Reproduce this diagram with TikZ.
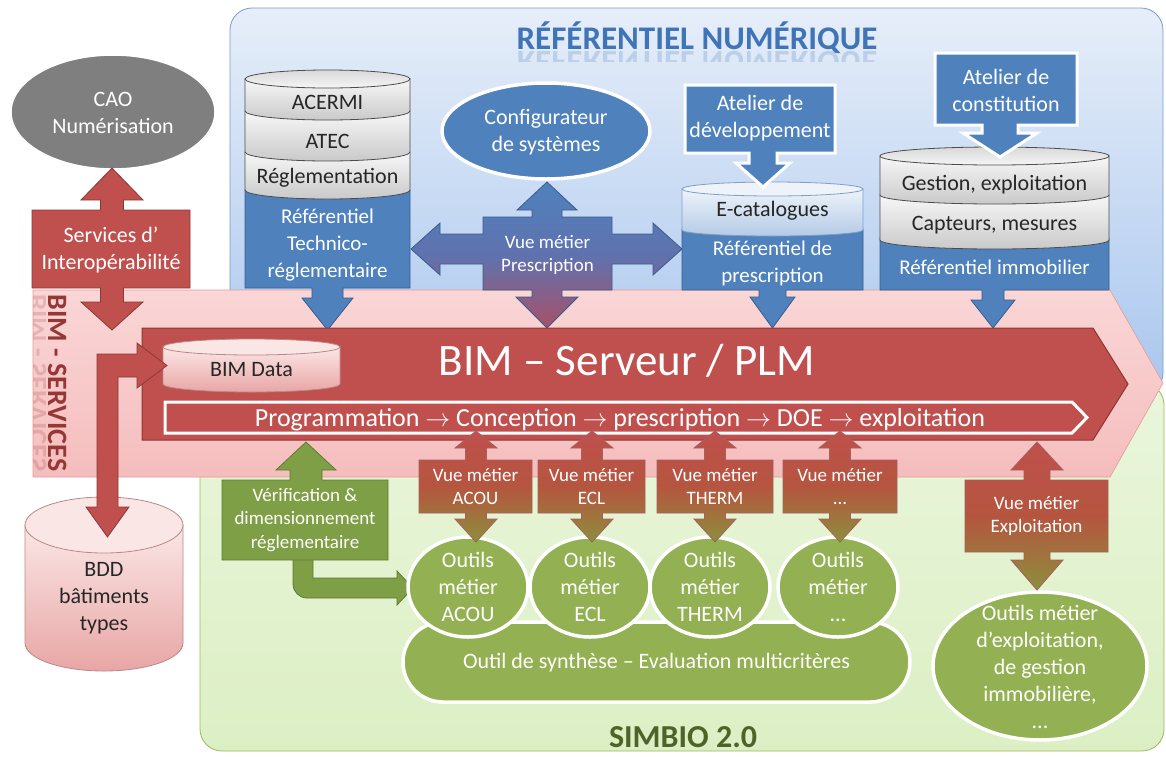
\documentclass[tikz,border=0pt]{standalone}
\usepackage{fontspec}
\setmainfont{Carlito}
\usepackage{graphicx}
\usetikzlibrary{shapes.geometric}
\definecolor{bl}{HTML}{4F81BD}
\definecolor{blD}{HTML}{385D8A}
\definecolor{rd}{HTML}{C0504D}
\definecolor{rdD}{HTML}{8C3836}
\definecolor{rdM}{HTML}{B5553F}
\definecolor{olv}{HTML}{8C8F3C}
\definecolor{gr}{HTML}{93B152}
\definecolor{grB}{HTML}{7E9F45}
\definecolor{grD}{HTML}{5F7A2E}
\definecolor{gy}{HTML}{7F7F7F}
\definecolor{bgbT}{HTML}{E6EEF9}
\definecolor{bgbB}{HTML}{A9C6EE}
\definecolor{bgbD}{HTML}{7A9CC8}
\definecolor{bggT}{HTML}{EAF6DC}
\definecolor{bggB}{HTML}{DCEFC4}
\definecolor{bggD}{HTML}{9BBB59}
\definecolor{pkT}{HTML}{FAD6D6}
\definecolor{pkB}{HTML}{F5BDBD}
\definecolor{pkD}{HTML}{E29A9A}
\definecolor{mar}{HTML}{953735}
\definecolor{ttl}{HTML}{3F74B8}
\definecolor{sim}{HTML}{4F6228}
\definecolor{ecT}{HTML}{EEF3FA}
\definecolor{ecB}{HTML}{B4CAE6}
\definecolor{ecD}{HTML}{7F9FC8}
\definecolor{pcT}{HTML}{FBE6E6}
\definecolor{pcB}{HTML}{E8A6A5}
\definecolor{qM}{HTML}{5F72AE}
\definecolor{qB}{HTML}{A8506A}
\definecolor{dk}{HTML}{262626}
\newcommand\myfs[2]{\fontsize{#1}{#2}\selectfont}
\tikzset{
  wt/.style={text=white, align=center, inner sep=0pt},
  dt/.style={text=dk, align=center, inner sep=0pt},
  fA/.style={font=\myfs{22}{27}},
  fB/.style={font=\myfs{21}{27}},
  fC/.style={font=\myfs{19}{23.5}},
  blbox/.style={fill=bl, draw=blD, line width=0.8pt},
  wblbox/.style={fill=bl, draw=white, line width=3pt},
  rdarrow/.style={fill=rd, draw=rdD, line width=0.8pt},
  gband/.style={top color=gray!6, bottom color=gray!42, draw=black!70, line width=0.8pt},
  gtop/.style={top color=gray!30, bottom color=gray!8, draw=black!70, line width=0.8pt},
  vuefill/.style={top color=rd, bottom color=olv, middle color=rdM, draw=rdD!80, line width=0.8pt},
  geell/.style={fill=gr, draw=white, line width=3.5pt},
  grarrow/.style={fill=grB, draw=grD, line width=0.8pt},
}
\newcommand\vuecall[3]{%
  \path[vuefill] (#3,431) -- ({#3+21},448) -- ({#3+10.5},448) -- ({#3+10.5},460) -- (#2,460) -- (#2,513) -- ({#3+10.5},513) -- ({#3+10.5},519) -- ({#3+21},519) -- (#3,542) -- ({#3-21},519) -- ({#3-10.5},519) -- ({#3-10.5},513) -- (#1,513) -- (#1,460) -- ({#3-10.5},460) -- ({#3-10.5},448) -- ({#3-21},448) -- cycle;}
\begin{document}
\begin{tikzpicture}[x=1pt,y=-1pt]
\useasboundingbox (0,0) rectangle (1166,756);
% backgrounds
\path[rounded corners=22pt, top color=bgbT, bottom color=bgbB, draw=bgbD, line width=0.8pt] (230,8) rectangle (1163,395);
\path[rounded corners=22pt, top color=bggT, bottom color=bggB, draw=bggD, line width=0.8pt] (200,383) rectangle (1164,751);
% title
\node[anchor=base, font=\bfseries\myfs{33}{33}, text=ttl, inner sep=0pt] (title) at (697,49) {RÉFÉRENTIEL NUMÉRIQUE};
\begin{scope}
\clip (500,50) rectangle (900,61);
\node[anchor=base, font=\bfseries\myfs{33}{33}, text=ttl, inner sep=0pt, opacity=0.22] (titler) at (697,51) {\scalebox{1}[-1]{RÉFÉRENTIEL NUMÉRIQUE}};
\end{scope}
% pink BIM services region
\path[top color=pkT, bottom color=pkB, draw=pkD, line width=0.6pt] (33,290) -- (1110,290) -- (1163,383) -- (1110,477) -- (33,477) -- cycle;
\node[rotate=-90, anchor=base, font=\bfseries\myfs{28}{28}, text=mar, inner sep=0pt] (bs) at (48,383) {BIM - SERVICES};
\begin{scope}
\clip (33,290) rectangle (46.5,477);
\node[rotate=-90, anchor=base, font=\bfseries\myfs{28}{28}, text=mar, inner sep=0pt, opacity=0.2] (bsr) at (46,383) {\scalebox{1}[-1]{BIM - SERVICES}};
\end{scope}
% Technico box + arrow
\path[blbox] (245,190) -- (410,190) -- (410,288) -- (343,288) -- (343,298) -- (353,298) -- (327.5,330) -- (302,298) -- (312,298) -- (312,288) -- (245,288) -- cycle;
\node[wt,fB] (tech) at (327.5,245) {Référentiel\\Technico-\\réglementaire};
% stack 1
\path[gband] (245,152) -- (245,190) arc[start angle=180,end angle=0,x radius=82.5,y radius=9] -- (410,152) -- cycle;
\path[gband] (245,111) -- (245,152) arc[start angle=180,end angle=0,x radius=82.5,y radius=9] -- (410,111) -- cycle;
\path[gband] (245,79) -- (245,111) arc[start angle=180,end angle=0,x radius=82.5,y radius=9] -- (410,79) -- cycle;
\path[gtop] (327.5,79) ellipse [x radius=82.5, y radius=9];
\node[dt,fA] (acermi) at (327.5,102) {ACERMI};
\node[dt,fA] (atec) at (327.5,141) {ATEC};
\node[dt,fA] (regl) at (327.5,178) {Réglementation};
% quad arrow
\path[top color=bl, bottom color=qB, middle color=qM, draw=blD, line width=0.8pt]
 (547,182) -- (577,210) -- (562,210) -- (562,217) -- (612,217) -- (612,234) -- (653,234) -- (653,223) -- (682,249) -- (653,275) -- (653,264) -- (612,264) -- (612,290) -- (562,290) -- (562,297) -- (578,297) -- (547,328) -- (516,297) -- (532,297) -- (532,290) -- (483,290) -- (483,264) -- (440,264) -- (440,275) -- (411,249) -- (440,223) -- (440,234) -- (483,234) -- (483,217) -- (532,217) -- (532,210) -- (517,210) -- cycle;
\node[wt,fC] (vpres) at (547.5,255) {Vue métier\\Prescription};
% configurateur
\path[fill=bl, draw=white, line width=3.5pt] (546,131) ellipse [x radius=104, y radius=48];
\node[wt,fA] (config) at (546,132) {Configurateur\\de systèmes};
% E-catalogues
\path[blbox] (682,229) -- (863,229) -- (863,290) -- (786,290) -- (786,297) -- (795,297) -- (772.5,328) -- (750,297) -- (759,297) -- (759,290) -- (682,290) -- cycle;
\node[wt,fB] (refpres) at (772.5,263) {Référentiel de\\prescription};
\path[top color=ecT, bottom color=ecB, draw=ecD, line width=0.8pt] (682,189) -- (682,230) arc[start angle=180,end angle=0,x radius=90.5,y radius=6] -- (863,189) -- cycle;
\path[fill=ecT, draw=ecD, line width=0.8pt] (772.5,189) ellipse [x radius=90.5, y radius=7];
\node[dt,fA] (ecat) at (772.5,211) {E-catalogues};
% Atelier de developpement
\path[wblbox] (685,85) -- (835,85) -- (835,153) -- (777,153) -- (777,163) -- (790,163) -- (763,187) -- (736,163) -- (749,163) -- (749,153) -- (685,153) -- cycle;
\node[wt,fA] (atdev) at (760,118) {Atelier de\\développement};
% stack 2
\path[blbox] (880,238) -- (1109,238) -- (1109,290) -- (1004,290) -- (1004,300) -- (1015,300) -- (993,328) -- (971,300) -- (982,300) -- (982,290) -- (880,290) -- cycle;
\node[wt,fB] (refimm) at (994.5,267) {Référentiel immobilier};
\path[gband] (880,195) -- (880,240) arc[start angle=180,end angle=0,x radius=114.5,y radius=9] -- (1109,195) -- cycle;
\path[gband] (880,156) -- (880,195) arc[start angle=180,end angle=0,x radius=114.5,y radius=9] -- (1109,156) -- cycle;
\path[gtop] (994.5,156) ellipse [x radius=114.5, y radius=9];
\node[dt,fA] (gest) at (994.5,185) {Gestion, exploitation};
\node[dt,fA] (capt) at (994.5,225) {Capteurs, mesures};
% Atelier de constitution
\path[wblbox] (935,53) -- (1077,53) -- (1077,125) -- (1018,125) -- (1018,133) -- (1037,133) -- (1000,157) -- (963,133) -- (982,133) -- (982,125) -- (935,125) -- cycle;
\node[wt,fA] (atcon) at (1006,90) {Atelier de\\constitution};
% CAO
\path[fill=gy, draw=white, line width=3.5pt] (113,112) ellipse [x radius=103, y radius=58];
\node[wt,fA] (cao) at (113,113) {CAO\\Numérisation};
% Services d'interop
\path[rdarrow] (112,168) -- (143,200) -- (123.5,200) -- (123.5,210) -- (190,210) -- (190,288) -- (123.5,288) -- (123.5,302) -- (143,302) -- (112,330) -- (81,302) -- (100.5,302) -- (100.5,288) -- (32,288) -- (32,210) -- (100.5,210) -- (100.5,200) -- (81,200) -- cycle;
\node[wt,fA] (serv) at (111,250) {Services d’\\Interopérabilité};
% BIM server
\path[rdarrow, line width=1pt] (142,328) -- (1093,328) -- (1128,384) -- (1093,440) -- (142,440) -- cycle;
\node[anchor=base, text=white, font=\myfs{45}{45}, inner sep=0pt] (bim) at (627,375) {BIM – Serveur / PLM};
\path[fill=rd, draw=white, line width=3pt] (165,402) -- (1072,402) -- (1087,417.5) -- (1072,433) -- (165,433) -- cycle;
\node[anchor=base, text=white, font=\myfs{26}{26}, inner sep=0pt] (prog) at (620,426) {Programmation $\rightarrow$ Conception $\rightarrow$ prescription $\rightarrow$ DOE $\rightarrow$ exploitation};
% BIM Data cylinder
\path[top color=pcT, bottom color=pcB, draw=rdD!60, line width=0.8pt] (163,347) -- (163,384) arc[start angle=180,end angle=0,x radius=88.5,y radius=8] -- (340,347) -- cycle;
\path[fill=pcT, draw=rdD!60, line width=0.8pt] (251.5,347) ellipse [x radius=88.5, y radius=8];
\node[dt,fA] (bimdata) at (251.5,370) {BIM Data};
% green verification
\path[grarrow] (293,555) -- (293,584) .. controls (293,591.7) and (299.3,598) .. (307,598) -- (397,598) -- (397,605) -- (413,588) -- (397,571) -- (397,578) -- (313,578) -- (313,555) -- cycle;
\path[grarrow] (306,442) -- (336,470) -- (322,470) -- (322,480) -- (388,480) -- (388,560) -- (222,560) -- (222,480) -- (290,480) -- (290,470) -- (276,470) -- cycle;
\node[wt,fC] (verif) at (305,520) {Vérification \&\\dimensionnement\\réglementaire};
% synthese bar
\node[fill=gr, draw=white, line width=3.5pt, rounded corners=40pt, minimum width=507pt, minimum height=80pt, inner sep=0pt] (synbar) at (656.5,662) {};
\node[wt,fA] (syn) at (656.5,663) {Outil de synthèse – Evaluation multicritères};
% outils ellipses
\path[geell] (468,587) ellipse [x radius=60, y radius=50];
\path[geell] (590,587) ellipse [x radius=60, y radius=50];
\path[geell] (710,587) ellipse [x radius=60, y radius=50];
\path[geell] (838,587) ellipse [x radius=60, y radius=50];
\node[wt,fA] (o1) at (468,587) {Outils\\métier\\ACOU};
\node[wt,fA] (o2) at (590,587) {Outils\\métier\\ECL};
\node[wt,fA] (o3) at (710,587) {Outils\\métier\\THERM};
\node[wt,fA] (o4) at (838,587) {Outils\\métier\\...};
% vue metier callouts
\vuecall{419}{532}{476}
\vuecall{538}{645}{592}
\vuecall{657}{773}{715}
\vuecall{783}{897}{840}
\node[wt,fC] (v1) at (475.5,486.5) {Vue métier\\ACOU};
\node[wt,fC] (v2) at (591.5,486.5) {Vue métier\\ECL};
\node[wt,fC] (v3) at (715,486.5) {Vue métier\\THERM};
\node[wt,fC] (v4) at (840,486.5) {Vue métier\\...};
% exploitation
\path[geell] (1040,666) ellipse [x radius=107, y radius=74];
\node[wt,fA] (oexp) at (1040,667) {Outils métier\\d’exploitation,\\de gestion\\immobilière,\\...};
\path[vuefill] (1037,442) -- (1063,470) -- (1050,470) -- (1050,480) -- (1108,480) -- (1108,552) -- (1050,552) -- (1050,560) -- (1063,560) -- (1037,590) -- (1011,560) -- (1024,560) -- (1024,552) -- (965,552) -- (965,480) -- (1024,480) -- (1024,470) -- (1011,470) -- cycle;
\node[wt,fC] (vexp) at (1036.5,516) {Vue métier\\Exploitation};
% BDD cylinder
\path[top color=pcT, bottom color=pcB, draw=rdD!60, line width=0.8pt] (25,525) -- (25,643) arc[start angle=180,end angle=0,x radius=79,y radius=28] -- (183,525) -- cycle;
\path[fill=pcT, draw=rdD!60, line width=0.8pt] (104,525) ellipse [x radius=79, y radius=28];
\node[dt,fA] (bdd) at (104,598) {BDD\\bâtiments\\types};
% bent red arrow
\path[rdarrow] (167,365.5) -- (137,388) -- (137,377) -- (118,377) -- (118,507) -- (129,507) -- (107.5,537) -- (86,507) -- (97,507) -- (97,354) -- (137,354) -- (137,343) -- cycle;
% SIMBIO
\node[anchor=base, font=\bfseries\myfs{32}{32}, text=sim, inner sep=0pt] (simbio) at (683,747) {SIMBIO 2.0};
\end{tikzpicture}
\end{document}
